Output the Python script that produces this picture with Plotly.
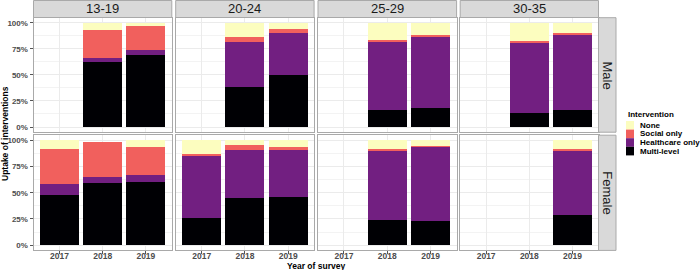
import plotly.graph_objects as go

# ---------------- data ----------------
age_groups = ["13-19", "20-24", "25-29", "30-35"]
sexes = ["Male", "Female"]
years = ["2017", "2018", "2019"]
interventions = ["Multi-level", "Healthcare only", "Social only", "None"]
colors = ["#000004", "#721F81", "#F1605D", "#FCFDBF"]

# values in % per [sex][age group][year]; None = no data
multi_level = {
    "Male":   [[None, 62.0, 69.0], [None, 38.5, 49.6], [None, 16.0, 18.6], [None, 13.4, 16.3]],
    "Female": [[47.5, 59.0, 60.0], [26.2, 44.7, 46.3], [None, 24.5, 23.3], [None, None, 28.8]],
}
healthcare_only = {
    "Male":   [[None, 4.5, 5.0], [None, 43.0, 41.0], [None, 66.2, 69.0], [None, 68.4, 73.0]],
    "Female": [[10.5, 5.8, 7.4], [58.5, 46.0, 45.1], [None, 65.9, 70.7], [None, None, 60.9]],
}
social_only = {
    "Male":   [[None, 26.5, 23.0], [None, 5.0, 3.2], [None, 1.0, 0.9], [None, 1.0, 0.9]],
    "Female": [[34.0, 33.6, 26.8], [2.8, 4.5, 1.9], [None, 1.0, 0.9], [None, None, 2.0]],
}
none_uptake = {
    "Male":   [[None, 7.0, 3.0], [None, 13.5, 6.2], [None, 16.9, 11.5], [None, 17.2, 9.8]],
    "Female": [[8.0, 0.0, 5.8], [12.5, 4.8, 6.7], [None, 8.6, 5.1], [None, None, 8.3]],
}
series = [multi_level, healthcare_only, social_only, none_uptake]
y_tick_vals = [0, 0.25, 0.5, 0.75, 1.0]
y_tick_text = ["0%", "25%", "50%", "75%", "100%"]

# ---------------- layout helpers ----------------
W, H = 700, 270
def px(x):
    return x / W
def py(y):
    return 1 - y / H

col_edges = [(33.5, 171.8), (175.7, 314.1), (318.0, 456.6), (460.2, 598.5)]
row_edges = [(17.7, 132.2), (135.2, 250.4)]
FONT = "Liberation Sans, Arial, Helvetica, sans-serif"
BORDER = "#A9A9A9"

fig = go.Figure()
layout = dict(
    width=W, height=H,
    margin=dict(l=0, r=0, t=0, b=0),
    paper_bgcolor="white", plot_bgcolor="white",
    barmode="stack", bargap=0.1,
    showlegend=False,
    font=dict(family=FONT, size=9, color="#4D4D4D"),
)
shapes = []
annotations = []

idx = 0
for r, sex in enumerate(sexes):
    for c, age in enumerate(age_groups):
        idx += 1
        xa = "x" if idx == 1 else f"x{idx}"
        ya = "y" if idx == 1 else f"y{idx}"
        for k, name in enumerate(interventions):
            vals = series[k][sex][c]
            yv = [None if v is None else v / 100 for v in vals]
            fig.add_trace(go.Bar(
                x=years, y=yv, name=name, marker=dict(color=colors[k], line=dict(width=0)),
                xaxis=xa, yaxis=ya, width=0.9, showlegend=False,
                hovertemplate=f"{sex} {age}<br>%{{x}}: %{{y:.0%}}<extra>{name}</extra>",
            ))
        x0, x1 = col_edges[c]
        y0, y1 = row_edges[r]
        xkey = "xaxis" if idx == 1 else f"xaxis{idx}"
        ykey = "yaxis" if idx == 1 else f"yaxis{idx}"
        bottom = (r == len(sexes) - 1)
        left = (c == 0)
        layout[xkey] = dict(
            domain=[px(x0), px(x1)], anchor=ya,
            type="category", categoryorder="array", categoryarray=years,
            range=[-0.6, 2.6],
            showgrid=True, gridcolor="#EBEBEB", gridwidth=1,
            showline=True, mirror=True, linecolor=BORDER, linewidth=1,
            zeroline=False,
            ticks="outside" if bottom else "", ticklen=3, tickcolor="#555555",
            showticklabels=bottom, ticklabelstandoff=-6,
            tickfont=dict(family=FONT, size=8.5, color="#4D4D4D", weight="bold"),
            fixedrange=True,
        )
        layout[ykey] = dict(
            domain=[py(y1), py(y0)], anchor=xa,
            range=[-0.05, 1.05],
            tickvals=y_tick_vals, ticktext=y_tick_text,
            showgrid=True, gridcolor="#EBEBEB", gridwidth=1,
            minor=dict(tick0=0.125, dtick=0.25, showgrid=True, gridcolor="#F3F3F3", gridwidth=0.6),
            showline=True, mirror=True, linecolor=BORDER, linewidth=1,
            zeroline=False,
            ticks="outside" if left else "", ticklen=3, tickcolor="#555555",
            showticklabels=left,
            tickfont=dict(family=FONT, size=8, color="#4D4D4D", weight="bold"),
            fixedrange=True,
        )

# top strips
for c, age in enumerate(age_groups):
    x0, x1 = col_edges[c]
    shapes.append(dict(type="rect", xref="paper", yref="paper",
                       x0=px(x0), x1=px(x1), y0=py(17.5), y1=py(0.5),
                       fillcolor="#D9D9D9", line=dict(color=BORDER, width=1), layer="above"))
    annotations.append(dict(x=px((x0 + x1) / 2), y=py(9.0), xref="paper", yref="paper",
                            text=age, showarrow=False, xanchor="center", yanchor="middle",
                            font=dict(family=FONT, size=13, color="#1A1A1A")))
# right strips
for r, sex in enumerate(sexes):
    y0, y1 = row_edges[r]
    shapes.append(dict(type="rect", xref="paper", yref="paper",
                       x0=px(598.5), x1=px(616), y0=py(y1), y1=py(y0),
                       fillcolor="#D9D9D9", line=dict(color=BORDER, width=1), layer="above"))
    annotations.append(dict(x=px(607.5), y=py((y0 + y1) / 2), xref="paper", yref="paper",
                            text=sex, showarrow=False, textangle=90,
                            xanchor="center", yanchor="middle",
                            font=dict(family=FONT, size=13, color="#1A1A1A")))

# axis titles
annotations.append(dict(x=px(316), y=py(265.5), xref="paper", yref="paper",
                        text="<b>Year of survey</b>", showarrow=False,
                        xanchor="center", yanchor="middle", borderpad=0,
                        font=dict(family=FONT, size=8.5, color="#000000")))
annotations.append(dict(x=px(5), y=py(134), xref="paper", yref="paper",
                        text="<b>Uptake of interventions</b>", showarrow=False, textangle=-90,
                        xanchor="center", yanchor="middle",
                        font=dict(family=FONT, size=8.5, color="#000000")))

# legend (top entry = None, as in stacking order)
annotations.append(dict(x=px(625.5), y=py(114), xref="paper", yref="paper",
                        text="<b>Intervention</b>", showarrow=False,
                        xanchor="left", yanchor="middle",
                        font=dict(family=FONT, size=8, color="#000000")))
key_top = 121.0
key_h = 8.6
for i, k in enumerate(reversed(range(len(interventions)))):
    yt = key_top + i * key_h
    shapes.append(dict(type="rect", xref="paper", yref="paper",
                       x0=px(626), x1=px(634), y0=py(yt + key_h), y1=py(yt),
                       fillcolor=colors[k], line=dict(width=0)))
    annotations.append(dict(x=px(638.5), y=py(yt + key_h / 2), xref="paper", yref="paper",
                            text=f"<b>{interventions[k]}</b>", showarrow=False,
                            xanchor="left", yanchor="middle", borderpad=0,
                            font=dict(family=FONT, size=8, color="#000000")))

layout["shapes"] = shapes
layout["annotations"] = annotations
fig.update_layout(**layout)
fig.write_html("out.html", config={"displayModeBar": False},
               post_script="document.body.style.margin='0';document.body.style.overflow='hidden';")
